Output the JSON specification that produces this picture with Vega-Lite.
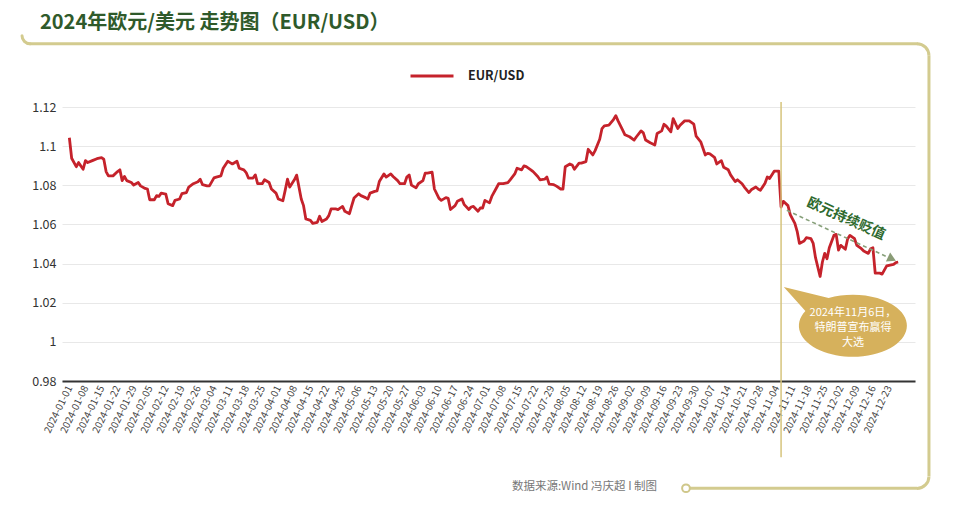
{
  "$schema": "https://vega.github.io/schema/vega-lite/v6.json",
  "width": 853,
  "height": 274,
  "autosize": {"type": "none"},
  "padding": {"left": 62, "top": 107, "right": 45, "bottom": 137},
  "background": "white",
  "config": {"font": "Noto Sans CJK SC", "view": {"stroke": null}},
  "title": {
    "text": "2024年欧元/美元 走势图（EUR/USD）",
    "anchor": "start",
    "frame": "group",
    "fontSize": 20,
    "fontWeight": "bold",
    "color": "#2f5a2b",
    "font": "Noto Sans CJK SC",
    "dx": -22,
    "offset": -3
  },
  "datasets": {
    "eurusd": [
      {"date": "2024-01-01", "rate": 1.1043}, {"date": "2024-01-02", "rate": 1.0938}, {"date": "2024-01-04", "rate": 1.0895}, {"date": "2024-01-05", "rate": 1.0916}, {"date": "2024-01-07", "rate": 1.0882}, {"date": "2024-01-08", "rate": 1.0926}, {"date": "2024-01-09", "rate": 1.0916}, {"date": "2024-01-11", "rate": 1.0926}, {"date": "2024-01-13", "rate": 1.0936}, {"date": "2024-01-15", "rate": 1.0941}, {"date": "2024-01-16", "rate": 1.0933}, {"date": "2024-01-17", "rate": 1.087}, {"date": "2024-01-18", "rate": 1.0848}, {"date": "2024-01-20", "rate": 1.0848}, {"date": "2024-01-22", "rate": 1.087}, {"date": "2024-01-23", "rate": 1.0879}, {"date": "2024-01-24", "rate": 1.0824}, {"date": "2024-01-25", "rate": 1.0845}, {"date": "2024-01-26", "rate": 1.0824}, {"date": "2024-01-28", "rate": 1.0814}, {"date": "2024-01-29", "rate": 1.0801}, {"date": "2024-01-31", "rate": 1.0814},
      {"date": "2024-02-01", "rate": 1.0797}, {"date": "2024-02-03", "rate": 1.0784}, {"date": "2024-02-04", "rate": 1.0781}, {"date": "2024-02-05", "rate": 1.0726}, {"date": "2024-02-07", "rate": 1.0726}, {"date": "2024-02-08", "rate": 1.0747}, {"date": "2024-02-09", "rate": 1.0743}, {"date": "2024-02-10", "rate": 1.076}, {"date": "2024-02-12", "rate": 1.0755}, {"date": "2024-02-13", "rate": 1.0706}, {"date": "2024-02-15", "rate": 1.0696}, {"date": "2024-02-16", "rate": 1.0723}, {"date": "2024-02-18", "rate": 1.073}, {"date": "2024-02-19", "rate": 1.0757}, {"date": "2024-02-21", "rate": 1.0763}, {"date": "2024-02-22", "rate": 1.0791}, {"date": "2024-02-24", "rate": 1.0808}, {"date": "2024-02-26", "rate": 1.0818}, {"date": "2024-02-27", "rate": 1.0831}, {"date": "2024-02-28", "rate": 1.0803},
      {"date": "2024-03-01", "rate": 1.0797}, {"date": "2024-03-02", "rate": 1.0797}, {"date": "2024-03-04", "rate": 1.0838}, {"date": "2024-03-05", "rate": 1.0842}, {"date": "2024-03-07", "rate": 1.0848}, {"date": "2024-03-08", "rate": 1.0887}, {"date": "2024-03-10", "rate": 1.0923}, {"date": "2024-03-11", "rate": 1.0916}, {"date": "2024-03-12", "rate": 1.0909}, {"date": "2024-03-14", "rate": 1.0923}, {"date": "2024-03-15", "rate": 1.0887}, {"date": "2024-03-17", "rate": 1.0879}, {"date": "2024-03-18", "rate": 1.0865}, {"date": "2024-03-19", "rate": 1.0837}, {"date": "2024-03-21", "rate": 1.0837}, {"date": "2024-03-22", "rate": 1.0853}, {"date": "2024-03-23", "rate": 1.0808}, {"date": "2024-03-25", "rate": 1.0808}, {"date": "2024-03-26", "rate": 1.0828}, {"date": "2024-03-28", "rate": 1.0814}, {"date": "2024-03-29", "rate": 1.0781}, {"date": "2024-03-31", "rate": 1.076},
      {"date": "2024-04-01", "rate": 1.073}, {"date": "2024-04-03", "rate": 1.0721}, {"date": "2024-04-04", "rate": 1.0774}, {"date": "2024-04-05", "rate": 1.0831}, {"date": "2024-04-06", "rate": 1.0791}, {"date": "2024-04-08", "rate": 1.0828}, {"date": "2024-04-09", "rate": 1.0852}, {"date": "2024-04-11", "rate": 1.073}, {"date": "2024-04-12", "rate": 1.0696}, {"date": "2024-04-13", "rate": 1.0628}, {"date": "2024-04-15", "rate": 1.0621}, {"date": "2024-04-16", "rate": 1.0605}, {"date": "2024-04-18", "rate": 1.0611}, {"date": "2024-04-19", "rate": 1.0642}, {"date": "2024-04-20", "rate": 1.0615}, {"date": "2024-04-22", "rate": 1.0628}, {"date": "2024-04-23", "rate": 1.0645}, {"date": "2024-04-24", "rate": 1.0679}, {"date": "2024-04-26", "rate": 1.0679}, {"date": "2024-04-27", "rate": 1.0676}, {"date": "2024-04-29", "rate": 1.0692}, {"date": "2024-04-30", "rate": 1.0667},
      {"date": "2024-05-02", "rate": 1.0655}, {"date": "2024-05-03", "rate": 1.0696}, {"date": "2024-05-04", "rate": 1.0735}, {"date": "2024-05-06", "rate": 1.0757}, {"date": "2024-05-07", "rate": 1.0747}, {"date": "2024-05-09", "rate": 1.0737}, {"date": "2024-05-10", "rate": 1.073}, {"date": "2024-05-11", "rate": 1.076}, {"date": "2024-05-13", "rate": 1.0769}, {"date": "2024-05-14", "rate": 1.0771}, {"date": "2024-05-15", "rate": 1.0819}, {"date": "2024-05-17", "rate": 1.0858}, {"date": "2024-05-18", "rate": 1.0842}, {"date": "2024-05-20", "rate": 1.0858}, {"date": "2024-05-21", "rate": 1.0845}, {"date": "2024-05-23", "rate": 1.0824}, {"date": "2024-05-24", "rate": 1.0808}, {"date": "2024-05-26", "rate": 1.0808}, {"date": "2024-05-27", "rate": 1.0842}, {"date": "2024-05-28", "rate": 1.0853}, {"date": "2024-05-29", "rate": 1.0801}, {"date": "2024-05-31", "rate": 1.0787},
      {"date": "2024-06-01", "rate": 1.0808}, {"date": "2024-06-03", "rate": 1.0824}, {"date": "2024-06-04", "rate": 1.0862}, {"date": "2024-06-05", "rate": 1.0862}, {"date": "2024-06-07", "rate": 1.0867}, {"date": "2024-06-08", "rate": 1.0781}, {"date": "2024-06-10", "rate": 1.0733}, {"date": "2024-06-11", "rate": 1.0723}, {"date": "2024-06-13", "rate": 1.0737}, {"date": "2024-06-14", "rate": 1.0733}, {"date": "2024-06-15", "rate": 1.0676}, {"date": "2024-06-17", "rate": 1.0696}, {"date": "2024-06-18", "rate": 1.0718}, {"date": "2024-06-20", "rate": 1.073}, {"date": "2024-06-21", "rate": 1.0701}, {"date": "2024-06-23", "rate": 1.0676}, {"date": "2024-06-24", "rate": 1.0689}, {"date": "2024-06-25", "rate": 1.0692}, {"date": "2024-06-27", "rate": 1.0667}, {"date": "2024-06-28", "rate": 1.0684}, {"date": "2024-06-29", "rate": 1.0684}, {"date": "2024-06-30", "rate": 1.0723},
      {"date": "2024-07-02", "rate": 1.071}, {"date": "2024-07-03", "rate": 1.0743}, {"date": "2024-07-05", "rate": 1.0786}, {"date": "2024-07-06", "rate": 1.0808}, {"date": "2024-07-08", "rate": 1.0808}, {"date": "2024-07-10", "rate": 1.0814}, {"date": "2024-07-11", "rate": 1.0828}, {"date": "2024-07-13", "rate": 1.0858}, {"date": "2024-07-14", "rate": 1.0887}, {"date": "2024-07-16", "rate": 1.0879}, {"date": "2024-07-17", "rate": 1.0899}, {"date": "2024-07-18", "rate": 1.0895}, {"date": "2024-07-20", "rate": 1.0879}, {"date": "2024-07-21", "rate": 1.087}, {"date": "2024-07-23", "rate": 1.0845}, {"date": "2024-07-24", "rate": 1.0828}, {"date": "2024-07-26", "rate": 1.0831}, {"date": "2024-07-27", "rate": 1.0842}, {"date": "2024-07-28", "rate": 1.0806}, {"date": "2024-07-30", "rate": 1.0803}, {"date": "2024-07-31", "rate": 1.0797},
      {"date": "2024-08-02", "rate": 1.0781}, {"date": "2024-08-03", "rate": 1.0781}, {"date": "2024-08-04", "rate": 1.0895}, {"date": "2024-08-06", "rate": 1.0909}, {"date": "2024-08-07", "rate": 1.0904}, {"date": "2024-08-08", "rate": 1.0882}, {"date": "2024-08-10", "rate": 1.0913}, {"date": "2024-08-11", "rate": 1.0913}, {"date": "2024-08-13", "rate": 1.0921}, {"date": "2024-08-14", "rate": 1.0984}, {"date": "2024-08-16", "rate": 1.0955}, {"date": "2024-08-17", "rate": 1.0977}, {"date": "2024-08-19", "rate": 1.1035}, {"date": "2024-08-20", "rate": 1.109}, {"date": "2024-08-21", "rate": 1.1104}, {"date": "2024-08-23", "rate": 1.1107}, {"date": "2024-08-25", "rate": 1.1136}, {"date": "2024-08-26", "rate": 1.1156}, {"date": "2024-08-27", "rate": 1.1129}, {"date": "2024-08-29", "rate": 1.1082}, {"date": "2024-08-30", "rate": 1.1058},
      {"date": "2024-09-01", "rate": 1.1048}, {"date": "2024-09-03", "rate": 1.1031}, {"date": "2024-09-04", "rate": 1.1048}, {"date": "2024-09-06", "rate": 1.1078}, {"date": "2024-09-07", "rate": 1.1068}, {"date": "2024-09-08", "rate": 1.1031}, {"date": "2024-09-10", "rate": 1.1017}, {"date": "2024-09-12", "rate": 1.1006}, {"date": "2024-09-13", "rate": 1.1065}, {"date": "2024-09-15", "rate": 1.1078}, {"date": "2024-09-16", "rate": 1.1112}, {"date": "2024-09-17", "rate": 1.1102}, {"date": "2024-09-19", "rate": 1.1073}, {"date": "2024-09-20", "rate": 1.1141}, {"date": "2024-09-22", "rate": 1.109}, {"date": "2024-09-23", "rate": 1.1107}, {"date": "2024-09-25", "rate": 1.1129}, {"date": "2024-09-27", "rate": 1.1129}, {"date": "2024-09-29", "rate": 1.1112}, {"date": "2024-09-30", "rate": 1.1051},
      {"date": "2024-10-02", "rate": 1.1022}, {"date": "2024-10-04", "rate": 1.0955}, {"date": "2024-10-05", "rate": 1.0963}, {"date": "2024-10-06", "rate": 1.096}, {"date": "2024-10-08", "rate": 1.0943}, {"date": "2024-10-09", "rate": 1.0909}, {"date": "2024-10-11", "rate": 1.0926}, {"date": "2024-10-12", "rate": 1.0892}, {"date": "2024-10-14", "rate": 1.0879}, {"date": "2024-10-15", "rate": 1.0853}, {"date": "2024-10-17", "rate": 1.0819}, {"date": "2024-10-18", "rate": 1.0828}, {"date": "2024-10-20", "rate": 1.0808}, {"date": "2024-10-21", "rate": 1.0791}, {"date": "2024-10-23", "rate": 1.0763}, {"date": "2024-10-24", "rate": 1.0777}, {"date": "2024-10-26", "rate": 1.0791}, {"date": "2024-10-27", "rate": 1.0781}, {"date": "2024-10-28", "rate": 1.0774}, {"date": "2024-10-30", "rate": 1.0811}, {"date": "2024-10-31", "rate": 1.0842},
      {"date": "2024-11-01", "rate": 1.0835}, {"date": "2024-11-03", "rate": 1.0872}, {"date": "2024-11-04", "rate": 1.0872}, {"date": "2024-11-05", "rate": 1.0872}, {"date": "2024-11-06", "rate": 1.0689}, {"date": "2024-11-07", "rate": 1.0718}, {"date": "2024-11-09", "rate": 1.0696}, {"date": "2024-11-10", "rate": 1.065}, {"date": "2024-11-12", "rate": 1.0605}, {"date": "2024-11-13", "rate": 1.0565}, {"date": "2024-11-14", "rate": 1.0503}, {"date": "2024-11-16", "rate": 1.0515}, {"date": "2024-11-17", "rate": 1.0532}, {"date": "2024-11-19", "rate": 1.0527}, {"date": "2024-11-20", "rate": 1.0503}, {"date": "2024-11-21", "rate": 1.043}, {"date": "2024-11-23", "rate": 1.0334}, {"date": "2024-11-24", "rate": 1.0408}, {"date": "2024-11-25", "rate": 1.0452}, {"date": "2024-11-26", "rate": 1.0425}, {"date": "2024-11-27", "rate": 1.0481}, {"date": "2024-11-29", "rate": 1.0544}, {"date": "2024-11-30", "rate": 1.0549},
      {"date": "2024-12-01", "rate": 1.0469}, {"date": "2024-12-02", "rate": 1.0493}, {"date": "2024-12-04", "rate": 1.0473}, {"date": "2024-12-05", "rate": 1.0527}, {"date": "2024-12-06", "rate": 1.0544}, {"date": "2024-12-08", "rate": 1.0527}, {"date": "2024-12-09", "rate": 1.0493}, {"date": "2024-12-11", "rate": 1.0476}, {"date": "2024-12-12", "rate": 1.0464}, {"date": "2024-12-14", "rate": 1.0452}, {"date": "2024-12-15", "rate": 1.0476}, {"date": "2024-12-16", "rate": 1.0481}, {"date": "2024-12-17", "rate": 1.0351}, {"date": "2024-12-19", "rate": 1.0351}, {"date": "2024-12-20", "rate": 1.0346}, {"date": "2024-12-22", "rate": 1.0388}, {"date": "2024-12-23", "rate": 1.0391}, {"date": "2024-12-25", "rate": 1.0396}, {"date": "2024-12-26", "rate": 1.0405}, {"date": "2024-12-27", "rate": 1.0408}
    ],
    "events": [{"date": "2024-11-06", "event": "特朗普宣布赢得大选"}]
  },
  "layer": [
    {
      "data": {"values": [{}]},
      "mark": {"type": "rule", "color": "#d3cb8f", "strokeWidth": 3, "clip": false, "strokeCap": "round"},
      "encoding": {
        "x": {"datum": {"year": 2023, "month": 12, "date": 14, "hours": 21, "utc": true}, "type": "temporal"},
        "x2": {"datum": {"year": 2025, "month": 1, "date": 4, "hours": 5, "utc": true}},
        "y": {"datum": 1.1523, "type": "quantitative"}
      }
    },
    {
      "data": {"values": [{}]},
      "mark": {"type": "point", "shape": "M 1 1 A 2 2 0 0 1 -1 -1", "size": 64, "filled": false, "stroke": "#d3cb8f", "strokeWidth": 3, "opacity": 1, "clip": false, "strokeCap": "round"},
      "encoding": {
        "x": {"datum": {"year": 2023, "month": 12, "date": 13, "hours": 3, "utc": true}, "type": "temporal"},
        "y": {"datum": 1.1544, "type": "quantitative"}
      }
    },
    {
      "data": {"values": [{}]},
      "mark": {"type": "point", "shape": "M -1 -1 A 2 2 0 0 1 1 1", "size": 144, "filled": false, "stroke": "#d3cb8f", "strokeWidth": 3, "opacity": 1, "clip": false},
      "encoding": {
        "x": {"datum": {"year": 2025, "month": 1, "date": 6, "hours": 19, "utc": true}, "type": "temporal"},
        "y": {"datum": 1.1493, "type": "quantitative"}
      }
    },
    {
      "data": {"values": [{}]},
      "mark": {"type": "rule", "color": "#d3cb8f", "strokeWidth": 3, "clip": false},
      "encoding": {
        "x": {"datum": {"year": 2025, "month": 1, "date": 9, "hours": 10, "utc": true}, "type": "temporal"},
        "y": {"datum": 1.1462, "type": "quantitative"},
        "y2": {"datum": 0.9313}
      }
    },
    {
      "data": {"values": [{}]},
      "mark": {"type": "point", "shape": "M 1 -1 A 2 2 0 0 1 -1 1", "size": 144, "filled": false, "stroke": "#d3cb8f", "strokeWidth": 3, "opacity": 1, "clip": false},
      "encoding": {
        "x": {"datum": {"year": 2025, "month": 1, "date": 6, "hours": 19, "utc": true}, "type": "temporal"},
        "y": {"datum": 0.9282, "type": "quantitative"}
      }
    },
    {
      "data": {"values": [{}]},
      "mark": {"type": "rule", "color": "#d3cb8f", "strokeWidth": 3, "clip": false},
      "encoding": {
        "x": {"datum": {"year": 2024, "month": 9, "date": 26, "hours": 10, "utc": true}, "type": "temporal"},
        "x2": {"datum": {"year": 2025, "month": 1, "date": 4, "hours": 5, "utc": true}},
        "y": {"datum": 0.9252, "type": "quantitative"}
      }
    },
    {
      "data": {"values": [{}]},
      "mark": {"type": "point", "shape": "circle", "size": 60, "filled": true, "fill": "white", "stroke": "#cfc78a", "strokeWidth": 2, "opacity": 1, "clip": false},
      "encoding": {
        "x": {"datum": {"year": 2024, "month": 9, "date": 25, "hours": 14, "utc": true}, "type": "temporal"},
        "y": {"datum": 0.9252, "type": "quantitative"}
      }
    },
    {
      "data": {"values": [{}]},
      "mark": {"type": "text", "text": "数据来源:Wind  冯庆超 I 制图", "align": "right", "baseline": "middle", "fontSize": 11.5, "color": "#777777", "clip": false},
      "encoding": {
        "x": {"datum": {"year": 2024, "month": 9, "date": 13, "utc": true}, "type": "temporal"},
        "y": {"datum": 0.9257, "type": "quantitative"}
      }
    },
    {
      "data": {"name": "eurusd"},
      "mark": {"type": "line", "strokeWidth": 2.8, "strokeJoin": "round"},
      "encoding": {
        "x": {
          "field": "date",
          "type": "temporal",
          "scale": {
            "type": "utc",
            "domain": [
              {"year": 2023, "month": 12, "date": 28, "hours": 19, "utc": true},
              {"year": 2025, "month": 1, "date": 3, "hours": 8, "utc": true}
            ]
          },
          "axis": {
            "title": null,
            "tickCount": 100,
            "values": [
              {"year": 2024, "month": 1, "date": 1, "utc": true}, {"year": 2024, "month": 1, "date": 8, "utc": true}, {"year": 2024, "month": 1, "date": 15, "utc": true}, {"year": 2024, "month": 1, "date": 22, "utc": true}, {"year": 2024, "month": 1, "date": 29, "utc": true},
              {"year": 2024, "month": 2, "date": 5, "utc": true}, {"year": 2024, "month": 2, "date": 12, "utc": true}, {"year": 2024, "month": 2, "date": 19, "utc": true}, {"year": 2024, "month": 2, "date": 26, "utc": true},
              {"year": 2024, "month": 3, "date": 4, "utc": true}, {"year": 2024, "month": 3, "date": 11, "utc": true}, {"year": 2024, "month": 3, "date": 18, "utc": true}, {"year": 2024, "month": 3, "date": 25, "utc": true},
              {"year": 2024, "month": 4, "date": 1, "utc": true}, {"year": 2024, "month": 4, "date": 8, "utc": true}, {"year": 2024, "month": 4, "date": 15, "utc": true}, {"year": 2024, "month": 4, "date": 22, "utc": true}, {"year": 2024, "month": 4, "date": 29, "utc": true},
              {"year": 2024, "month": 5, "date": 6, "utc": true}, {"year": 2024, "month": 5, "date": 13, "utc": true}, {"year": 2024, "month": 5, "date": 20, "utc": true}, {"year": 2024, "month": 5, "date": 27, "utc": true},
              {"year": 2024, "month": 6, "date": 3, "utc": true}, {"year": 2024, "month": 6, "date": 10, "utc": true}, {"year": 2024, "month": 6, "date": 17, "utc": true}, {"year": 2024, "month": 6, "date": 24, "utc": true},
              {"year": 2024, "month": 7, "date": 1, "utc": true}, {"year": 2024, "month": 7, "date": 8, "utc": true}, {"year": 2024, "month": 7, "date": 15, "utc": true}, {"year": 2024, "month": 7, "date": 22, "utc": true}, {"year": 2024, "month": 7, "date": 29, "utc": true},
              {"year": 2024, "month": 8, "date": 5, "utc": true}, {"year": 2024, "month": 8, "date": 12, "utc": true}, {"year": 2024, "month": 8, "date": 19, "utc": true}, {"year": 2024, "month": 8, "date": 26, "utc": true},
              {"year": 2024, "month": 9, "date": 2, "utc": true}, {"year": 2024, "month": 9, "date": 9, "utc": true}, {"year": 2024, "month": 9, "date": 16, "utc": true}, {"year": 2024, "month": 9, "date": 23, "utc": true}, {"year": 2024, "month": 9, "date": 30, "utc": true},
              {"year": 2024, "month": 10, "date": 7, "utc": true}, {"year": 2024, "month": 10, "date": 14, "utc": true}, {"year": 2024, "month": 10, "date": 21, "utc": true}, {"year": 2024, "month": 10, "date": 28, "utc": true},
              {"year": 2024, "month": 11, "date": 4, "utc": true}, {"year": 2024, "month": 11, "date": 11, "utc": true}, {"year": 2024, "month": 11, "date": 18, "utc": true}, {"year": 2024, "month": 11, "date": 25, "utc": true},
              {"year": 2024, "month": 12, "date": 2, "utc": true}, {"year": 2024, "month": 12, "date": 9, "utc": true}, {"year": 2024, "month": 12, "date": 16, "utc": true}, {"year": 2024, "month": 12, "date": 23, "utc": true}
            ],
            "format": "%Y-%m-%d",
            "labelAngle": -64,
            "labelAlign": "right",
            "labelBaseline": "middle",
            "labelFontSize": 10,
            "labelColor": "#444444",
            "labelPadding": 5,
            "labelOverlap": false,
            "labelFlush": false,
            "labelBound": false,
            "ticks": false,
            "grid": false,
            "domainColor": "#333333",
            "domainWidth": 2
          }
        },
        "y": {
          "field": "rate",
          "type": "quantitative",
          "scale": {"domain": [0.98, 1.12], "zero": false, "nice": false},
          "axis": {
            "title": null,
            "tickCount": 20,
            "values": [0.98, 1, 1.02, 1.04, 1.06, 1.08, 1.1, 1.12],
            "format": ".2~f",
            "domain": false,
            "ticks": false,
            "grid": true,
            "gridColor": "#e8e8e8",
            "gridWidth": 1,
            "labelOverlap": false,
            "labelFontSize": 12.5,
            "labelColor": "#333333",
            "labelPadding": 6
          }
        },
        "color": {
          "datum": "EUR/USD",
          "type": "nominal",
          "scale": {"range": ["#c5222b"]},
          "legend": {
            "title": null,
            "orient": "none",
            "legendX": 347,
            "legendY": -54,
            "symbolType": "stroke",
            "symbolSize": 1849,
            "symbolStrokeWidth": 3,
            "labelFontSize": 12.5,
            "labelFontWeight": "bold",
            "labelColor": "#222222",
            "labelOffset": 13
          }
        }
      }
    },
    {
      "data": {"name": "events"},
      "mark": {"type": "rule", "color": "#d6c47c", "strokeWidth": 1.5, "clip": false},
      "encoding": {
        "x": {"field": "date", "type": "temporal"},
        "y": {"datum": 1.1225, "type": "quantitative"},
        "y2": {"datum": 0.941}
      }
    },
    {
      "data": {"values": [{}]},
      "mark": {"type": "rule", "color": "#87a07a", "strokeWidth": 1.6, "strokeDash": [4, 3]},
      "encoding": {
        "x": {"datum": {"year": 2024, "month": 11, "date": 8, "hours": 12, "utc": true}, "type": "temporal"},
        "x2": {"datum": {"year": 2024, "month": 12, "date": 22, "hours": 14, "utc": true}},
        "y": {"datum": 1.0672, "type": "quantitative"},
        "y2": {"datum": 1.0432}
      }
    },
    {
      "data": {"values": [{}]},
      "mark": {"type": "point", "shape": "triangle-right", "angle": 25, "size": 100, "filled": true, "fill": "#8a9c76", "opacity": 1},
      "encoding": {
        "x": {"datum": {"year": 2024, "month": 12, "date": 24, "hours": 7, "utc": true}, "type": "temporal"},
        "y": {"datum": 1.0424, "type": "quantitative"}
      }
    },
    {
      "data": {"values": [{}]},
      "mark": {"type": "text", "text": "欧元持续贬值", "angle": 24, "align": "center", "baseline": "middle", "fontSize": 14, "fontWeight": "bold", "color": "#2e6a2e"},
      "encoding": {
        "x": {"datum": {"year": 2024, "month": 12, "date": 4, "hours": 7, "utc": true}, "type": "temporal"},
        "y": {"datum": 1.0628, "type": "quantitative"}
      }
    },
    {
      "data": {"values": [{}]},
      "mark": {"type": "point", "shape": "M -1.28 -0.72 L -0.45 -0.513 A 1 0.574 0 1 1 -0.88 -0.273 Z", "size": 11664, "filled": true, "fill": "#d6b15c", "opacity": 1, "strokeWidth": 0},
      "encoding": {
        "x": {"datum": {"year": 2024, "month": 12, "date": 7, "hours": 7, "utc": true}, "type": "temporal"},
        "y": {"datum": 1.0082, "type": "quantitative"}
      }
    },
    {
      "data": {"values": [{}]},
      "mark": {"type": "text", "text": ["2024年11月6日，", "特朗普宣布赢得", "大选"], "align": "center", "baseline": "middle", "fontSize": 11, "lineHeight": 15, "color": "#ffffff"},
      "encoding": {
        "x": {"datum": {"year": 2024, "month": 12, "date": 7, "hours": 7, "utc": true}, "type": "temporal"},
        "y": {"datum": 1.0148, "type": "quantitative"}
      }
    }
  ]
}
